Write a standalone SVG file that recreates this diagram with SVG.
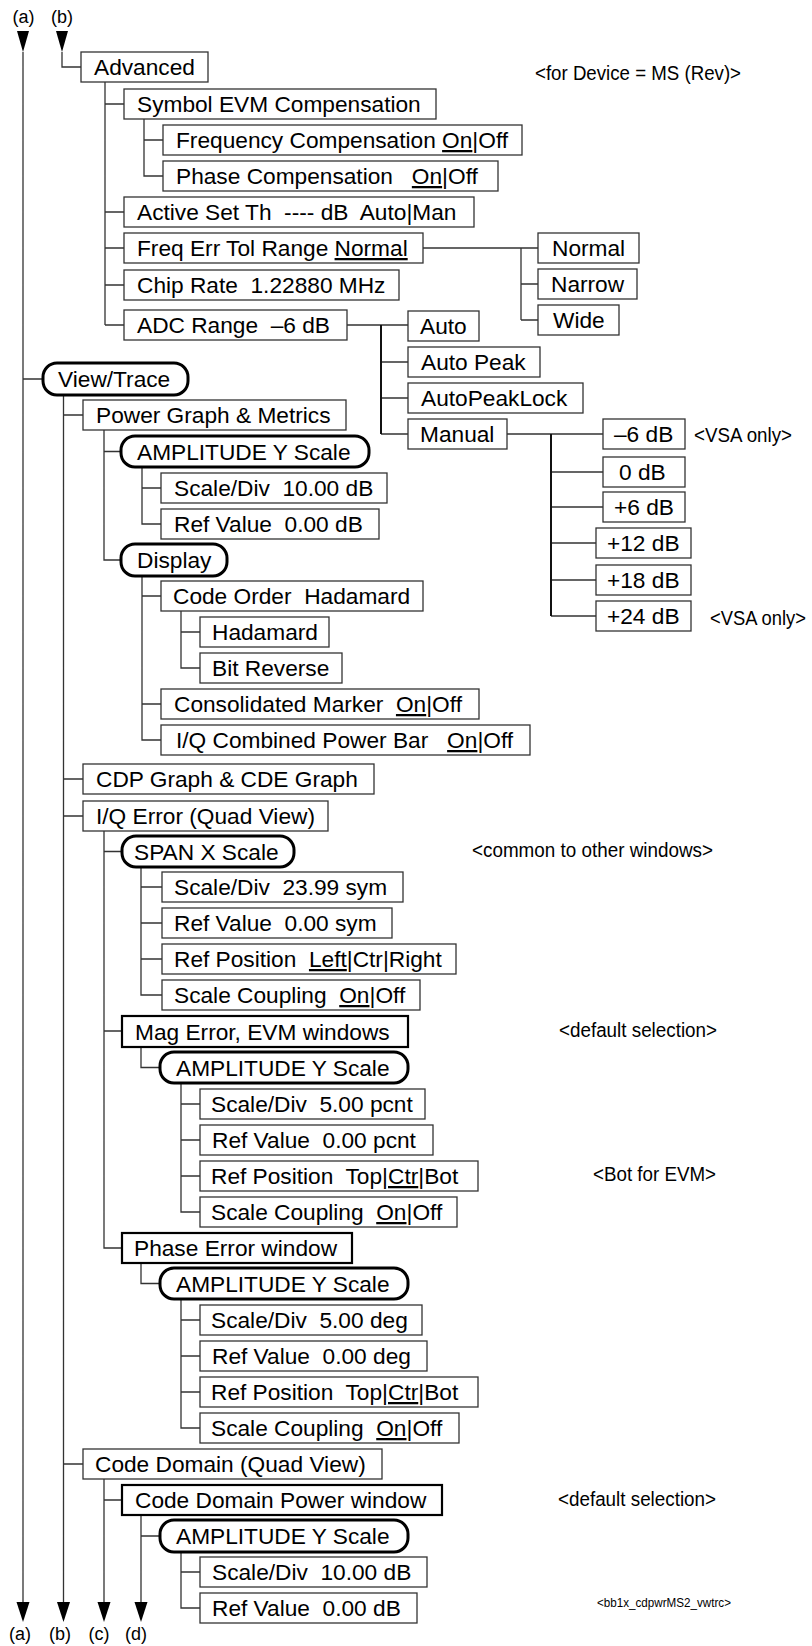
<svg xmlns="http://www.w3.org/2000/svg" width="812" height="1646" viewBox="0 0 812 1646" xml:space="preserve">
<style>
.b{fill:#fff;stroke:#333;stroke-width:1.3}
.bt{fill:#fff;stroke:#000;stroke-width:2.2}
.r{fill:#fff;stroke:#000;stroke-width:3}
.t{font-family:"Liberation Sans",Arial,sans-serif;font-size:22.7px;fill:#000;white-space:pre}
.a{font-family:"Liberation Sans",Arial,sans-serif;font-size:20px;fill:#000}
.s{font-family:"Liberation Sans",Arial,sans-serif;font-size:12.5px;fill:#000}
.l{font-family:"Liberation Sans",Arial,sans-serif;font-size:18px;fill:#000;text-anchor:middle}
.c{fill:none;stroke:#333;stroke-width:1.3}
.ct{fill:none;stroke:#111;stroke-width:2}
.u{text-decoration:underline}
</style>

<g id="connectors">
<path class="c" d="M23,52V1602 M62,52V67H81 M105,82V325 M105,104H124 M105,212H124 M105,248H124 M105,285H124 M105,325H124 M144,118V176H163 M144,140H163 M423,248H521 M521,248V320 M521,248H538 M521,284H538 M521,320H538 M347,325H408 M381,362H408 M381,398H408 M381,434H408 M507,434H603 M551,472H603 M551,507H603 M551,543H596 M551,580H596 M551,616H596 M23,379H43 M63.5,395V1602 M63.5,415H83 M63.5,779H83 M63.5,816H83 M63.5,1464H83 M104,430V560H121 M104,451.5H121 M142,467V524H161 M142,488H161 M142,576V740H161 M142,596H161 M142,704H161 M181,611V668H200 M181,632H200 M104,831V1248H122 M104,851.5H122 M104,1031H122 M141,867V995H162 M141,887H162 M141,923H162 M141,959H162 M141,1047V1067.5H160 M181,1083V1212H200 M181,1104H200 M181,1140H200 M181,1176H200 M141,1263V1283.5H160 M181,1299V1428H200 M181,1320H200 M181,1356H200 M181,1392H200 M104,1479V1602 M104,1500H122 M141,1515V1602 M141,1536H160 M181,1552V1608H200 M181,1572H200"/>
<path class="ct" d="M381,325V434 M551,434V616"/>
<polygon points="17,31 29,31 23,52" fill="#000"/>
<polygon points="56,31 68,31 62,52" fill="#000"/>
<polygon points="16.5,1602 29.5,1602 23,1622" fill="#000"/>
<polygon points="57,1602 70,1602 63.5,1622" fill="#000"/>
<polygon points="97.5,1602 110.5,1602 104,1622" fill="#000"/>
<polygon points="134.5,1602 147.5,1602 141,1622" fill="#000"/>
</g>

<g id="labels">
<text class="l" x="23.5" y="23">(a)</text>
<text class="l" x="62" y="23">(b)</text>
<text class="l" x="20" y="1640">(a)</text>
<text class="l" x="60" y="1640">(b)</text>
<text class="l" x="99" y="1640">(c)</text>
<text class="l" x="136" y="1640">(d)</text>
</g>

<g id="notes">
<text class="a" x="535" y="80" textLength="206" lengthAdjust="spacingAndGlyphs">&lt;for Device = MS (Rev)&gt;</text>
<text class="a" x="694" y="442" textLength="98" lengthAdjust="spacingAndGlyphs">&lt;VSA only&gt;</text>
<text class="a" x="710" y="625" textLength="96" lengthAdjust="spacingAndGlyphs">&lt;VSA only&gt;</text>
<text class="a" x="472" y="857" textLength="241" lengthAdjust="spacingAndGlyphs">&lt;common to other windows&gt;</text>
<text class="a" x="559" y="1037" textLength="158" lengthAdjust="spacingAndGlyphs">&lt;default selection&gt;</text>
<text class="a" x="593" y="1181" textLength="123" lengthAdjust="spacingAndGlyphs">&lt;Bot for EVM&gt;</text>
<text class="a" x="558" y="1506" textLength="158" lengthAdjust="spacingAndGlyphs">&lt;default selection&gt;</text>
<text class="s" x="597" y="1607" textLength="134" lengthAdjust="spacingAndGlyphs">&lt;bb1x_cdpwrMS2_vwtrc&gt;</text>
</g>

<g id="n-advanced"><rect class="b" x="81" y="52" width="127" height="30"/><text class="t" x="94" y="75">Advanced</text></g>
<g id="n-symevm"><rect class="b" x="124" y="89" width="312" height="30"/><text class="t" x="137" y="112">Symbol EVM Compensation</text></g>
<g id="n-freqcomp"><rect class="b" x="163" y="125" width="359" height="30"/><text class="t" x="176" y="148">Frequency Compensation <tspan class="u">On</tspan>|Off</text></g>
<g id="n-phasecomp"><rect class="b" x="163" y="161" width="335" height="30"/><text class="t" x="176" y="184" xml:space="preserve">Phase Compensation   <tspan class="u">On</tspan>|Off</text></g>
<g id="n-activeset"><rect class="b" x="124" y="197" width="350" height="30"/><text class="t" x="137" y="220" xml:space="preserve">Active Set Th  ---- dB  Auto|Man</text></g>
<g id="n-freqerr"><rect class="b" x="124" y="233" width="299" height="30"/><text class="t" x="137" y="256">Freq Err Tol Range <tspan class="u">Normal</tspan></text></g>
<g id="n-chiprate"><rect class="b" x="124" y="270" width="275" height="30"/><text class="t" x="137" y="293" xml:space="preserve">Chip Rate  1.22880 MHz</text></g>
<g id="n-adc"><rect class="b" x="124" y="310" width="223" height="30"/><text class="t" x="137" y="333" xml:space="preserve">ADC Range  –6 dB</text></g>
<g id="n-normal"><rect class="b" x="538" y="233" width="101" height="30"/><text class="t" x="552" y="256">Normal</text></g>
<g id="n-narrow"><rect class="b" x="538" y="269" width="99" height="30"/><text class="t" x="551" y="292">Narrow</text></g>
<g id="n-wide"><rect class="b" x="538" y="305" width="81" height="30"/><text class="t" x="553" y="328">Wide</text></g>
<g id="n-auto"><rect class="b" x="408" y="311" width="71" height="30"/><text class="t" x="420" y="334">Auto</text></g>
<g id="n-autopeak"><rect class="b" x="408" y="347" width="132" height="30"/><text class="t" x="421" y="370">Auto Peak</text></g>
<g id="n-autopeaklock"><rect class="b" x="408" y="383" width="175" height="30"/><text class="t" x="421" y="406">AutoPeakLock</text></g>
<g id="n-manual"><rect class="b" x="408" y="419" width="99" height="30"/><text class="t" x="420" y="442">Manual</text></g>
<g id="n-m6"><rect class="b" x="603" y="419" width="82" height="30"/><text class="t" x="614" y="442">–6 dB</text></g>
<g id="n-0"><rect class="b" x="603" y="457" width="82" height="30"/><text class="t" x="619" y="480">0 dB</text></g>
<g id="n-p6"><rect class="b" x="603" y="492" width="82" height="30"/><text class="t" x="614" y="515">+6 dB</text></g>
<g id="n-p12"><rect class="b" x="596" y="528" width="95" height="30"/><text class="t" x="607" y="551">+12 dB</text></g>
<g id="n-p18"><rect class="b" x="596" y="565" width="95" height="30"/><text class="t" x="607" y="588">+18 dB</text></g>
<g id="n-p24"><rect class="b" x="596" y="601" width="95" height="30"/><text class="t" x="607" y="624">+24 dB</text></g>

<g id="n-viewtrace"><rect class="r" x="43" y="363" width="145" height="32" rx="14"/><text class="t" x="58" y="387">View/Trace</text></g>
<g id="n-powergraph"><rect class="b" x="83" y="400" width="263" height="30"/><text class="t" x="96" y="423">Power Graph &amp; Metrics</text></g>
<g id="n-amp1"><rect class="r" x="121" y="436" width="248" height="31" rx="14"/><text class="t" x="137" y="459.5">AMPLITUDE Y Scale</text></g>
<g id="n-scdiv1"><rect class="b" x="161" y="473" width="226" height="30"/><text class="t" x="174" y="496" xml:space="preserve">Scale/Div  10.00 dB</text></g>
<g id="n-refval1"><rect class="b" x="161" y="509" width="218" height="30"/><text class="t" x="174" y="532" xml:space="preserve">Ref Value  0.00 dB</text></g>
<g id="n-display"><rect class="r" x="121" y="544" width="106" height="32" rx="14"/><text class="t" x="137" y="568">Display</text></g>
<g id="n-codeorder"><rect class="b" x="161" y="581" width="262" height="30"/><text class="t" x="173" y="604" xml:space="preserve">Code Order  Hadamard</text></g>
<g id="n-hadamard"><rect class="b" x="200" y="617" width="129" height="30"/><text class="t" x="212" y="640">Hadamard</text></g>
<g id="n-bitrev"><rect class="b" x="200" y="653" width="142" height="30"/><text class="t" x="212" y="676">Bit Reverse</text></g>
<g id="n-consmarker"><rect class="b" x="161" y="689" width="318" height="30"/><text class="t" x="174" y="712" xml:space="preserve">Consolidated Marker  <tspan class="u">On</tspan>|Off</text></g>
<g id="n-iqbar"><rect class="b" x="161" y="725" width="369" height="30"/><text class="t" x="176" y="748" xml:space="preserve">I/Q Combined Power Bar   <tspan class="u">On</tspan>|Off</text></g>
<g id="n-cdp"><rect class="b" x="83" y="764" width="291" height="30"/><text class="t" x="96" y="787">CDP Graph &amp; CDE Graph</text></g>
<g id="n-iqerr"><rect class="b" x="83" y="801" width="245" height="30"/><text class="t" x="96" y="824">I/Q Error (Quad View)</text></g>
<g id="n-span"><rect class="r" x="122" y="836" width="172" height="31" rx="14"/><text class="t" x="134" y="859.5">SPAN X Scale</text></g>
<g id="n-scdivsym"><rect class="b" x="162" y="872" width="241" height="30"/><text class="t" x="174" y="895" xml:space="preserve">Scale/Div  23.99 sym</text></g>
<g id="n-refvalsym"><rect class="b" x="162" y="908" width="230" height="30"/><text class="t" x="174" y="931" xml:space="preserve">Ref Value  0.00 sym</text></g>
<g id="n-refpossym"><rect class="b" x="162" y="944" width="294" height="30"/><text class="t" x="174" y="967" xml:space="preserve">Ref Position  <tspan class="u">Left</tspan>|Ctr|Right</text></g>
<g id="n-sccoupsym"><rect class="b" x="162" y="980" width="258" height="30"/><text class="t" x="174" y="1003" xml:space="preserve">Scale Coupling  <tspan class="u">On</tspan>|Off</text></g>
<g id="n-magerr"><rect class="bt" x="122" y="1016" width="286" height="31"/><text class="t" x="135" y="1039.5">Mag Error, EVM windows</text></g>
<g id="n-amp2"><rect class="r" x="160" y="1052" width="248" height="31" rx="14"/><text class="t" x="176" y="1075.5">AMPLITUDE Y Scale</text></g>
<g id="n-scdivpc"><rect class="b" x="200" y="1089" width="225" height="30"/><text class="t" x="211" y="1112" xml:space="preserve">Scale/Div  5.00 pcnt</text></g>
<g id="n-refvalpc"><rect class="b" x="200" y="1125" width="233" height="30"/><text class="t" x="212" y="1148" xml:space="preserve">Ref Value  0.00 pcnt</text></g>
<g id="n-refpospc"><rect class="b" x="200" y="1161" width="278" height="30"/><text class="t" x="211" y="1184" xml:space="preserve">Ref Position  Top|<tspan class="u">Ctr</tspan>|Bot</text></g>
<g id="n-sccouppc"><rect class="b" x="200" y="1197" width="257" height="30"/><text class="t" x="211" y="1220" xml:space="preserve">Scale Coupling  <tspan class="u">On</tspan>|Off</text></g>
<g id="n-phaseerr"><rect class="bt" x="122" y="1233" width="230" height="30"/><text class="t" x="134" y="1256">Phase Error window</text></g>
<g id="n-amp3"><rect class="r" x="160" y="1268" width="248" height="31" rx="14"/><text class="t" x="176" y="1291.5">AMPLITUDE Y Scale</text></g>
<g id="n-scdivdeg"><rect class="b" x="200" y="1305" width="222" height="30"/><text class="t" x="211" y="1328" xml:space="preserve">Scale/Div  5.00 deg</text></g>
<g id="n-refvaldeg"><rect class="b" x="200" y="1341" width="227" height="30"/><text class="t" x="212" y="1364" xml:space="preserve">Ref Value  0.00 deg</text></g>
<g id="n-refposdeg"><rect class="b" x="200" y="1377" width="278" height="30"/><text class="t" x="211" y="1400" xml:space="preserve">Ref Position  Top|<tspan class="u">Ctr</tspan>|Bot</text></g>
<g id="n-sccoupdeg"><rect class="b" x="200" y="1413" width="259" height="30"/><text class="t" x="211" y="1436" xml:space="preserve">Scale Coupling  <tspan class="u">On</tspan>|Off</text></g>
<g id="n-codedomain"><rect class="b" x="83" y="1449" width="299" height="30"/><text class="t" x="95" y="1472">Code Domain (Quad View)</text></g>
<g id="n-cdpwin"><rect class="bt" x="122" y="1485" width="320" height="30"/><text class="t" x="135" y="1508">Code Domain Power window</text></g>
<g id="n-amp4"><rect class="r" x="160" y="1520" width="248" height="32" rx="14"/><text class="t" x="176" y="1544">AMPLITUDE Y Scale</text></g>
<g id="n-scdivcd"><rect class="b" x="200" y="1557" width="227" height="30"/><text class="t" x="212" y="1580" xml:space="preserve">Scale/Div  10.00 dB</text></g>
<g id="n-refvalcd"><rect class="b" x="200" y="1593" width="217" height="30"/><text class="t" x="212" y="1616" xml:space="preserve">Ref Value  0.00 dB</text></g>
</svg>
